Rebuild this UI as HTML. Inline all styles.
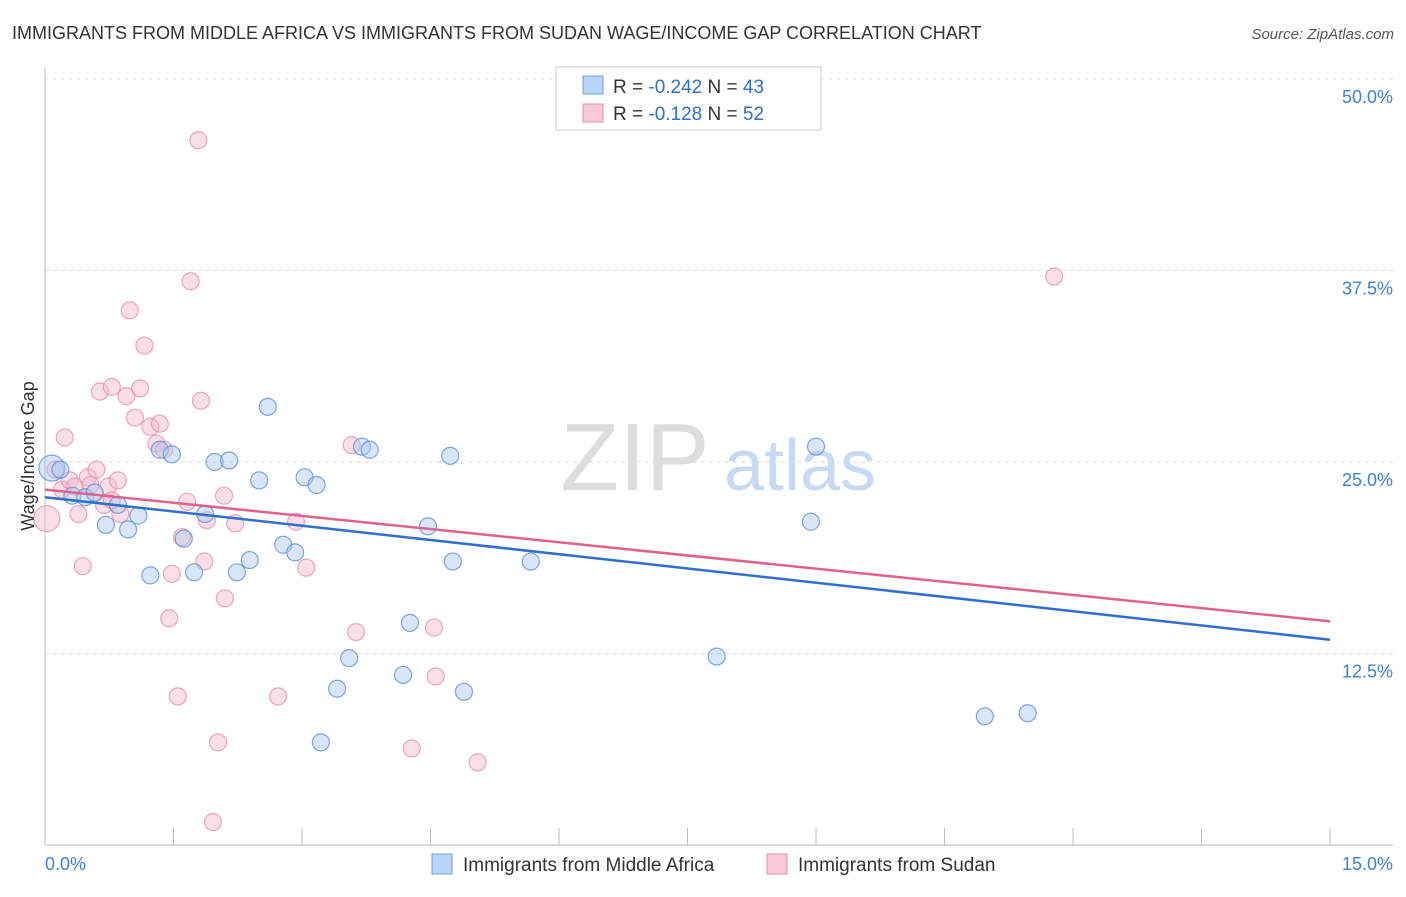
<!DOCTYPE html>
<html><head><meta charset="utf-8"><style>
body{margin:0;background:#fff;font-family:"Liberation Sans",sans-serif;}
svg text{font-family:"Liberation Sans",sans-serif;}
</style></head><body>
<svg id="chart" width="1406" height="892" xmlns="http://www.w3.org/2000/svg">
<text x="12" y="39" font-size="18" fill="#333">IMMIGRANTS FROM MIDDLE AFRICA VS IMMIGRANTS FROM SUDAN WAGE/INCOME GAP CORRELATION CHART</text>
<text x="1394" y="39" font-size="15" fill="#555" text-anchor="end" font-style="italic">Source: ZipAtlas.com</text>
<text x="635" y="490" font-size="96" fill="#ddd" text-anchor="middle" font-family="Liberation Serif">ZIP</text>
<text x="800" y="490" font-size="72" fill="#c8daf2" text-anchor="middle">atlas</text>
<g id="grid"></g><g id="axes"></g><g id="marks"></g>
<text transform="translate(34,456) rotate(-90)" font-size="18" fill="#333" text-anchor="middle">Wage/Income Gap</text>
<g>
<rect x="556" y="67" width="265" height="63" fill="#fff" stroke="#ccc"/>
<rect x="583" y="76" width="20" height="18" fill="#b8d4f6" stroke="#6fa0e0"/>
<rect x="583" y="104" width="20" height="18" fill="#f9c8d8" stroke="#e890b0"/>
<text x="613" y="93" font-size="19" fill="#333">R = <tspan fill="#2f6fd0">-0.242</tspan>   N = <tspan fill="#2f6fd0">43</tspan></text>
<text x="613" y="120" font-size="19" fill="#333">R =  <tspan fill="#2f6fd0">-0.128</tspan>   N = <tspan fill="#2f6fd0">52</tspan></text>
</g>
<g>
<rect x="432" y="854" width="20" height="20" fill="#b8d4f6" stroke="#6fa0e0"/>
<text x="463" y="871" font-size="19" fill="#333">Immigrants from Middle Africa</text>
<rect x="767" y="854" width="20" height="20" fill="#f9c8d8" stroke="#e890b0"/>
<text x="798" y="871" font-size="19" fill="#333">Immigrants from Sudan</text>
</g>
</svg>
<script>
const yTicks=[12.5,25,37.5,50];
const yTickLabels=["12.5%","25.0%","37.5%","50.0%"];
const xTicks=[0,1.5,3,4.5,6,7.5,9,10.5,12,13.5,15];
const blueX=[0.08,0.18,0.32,0.47,0.58,0.71,0.85,0.97,1.09,1.23,1.34,1.48,1.62,1.74,1.87,1.98,2.15,2.24,2.39,2.50,2.60,2.78,2.92,3.03,3.17,3.22,3.41,3.55,3.70,3.79,4.18,4.26,4.47,4.73,4.76,4.89,5.67,6.68,7.84,8.94,9.00,10.97,11.47];
const blueY=[24.6,24.5,22.8,22.7,23.0,20.9,22.2,20.6,21.5,17.6,25.8,25.5,20.0,17.8,21.6,25.0,25.1,17.8,18.6,23.8,28.6,19.6,19.1,24.0,23.5,6.7,10.2,12.2,26.0,25.8,11.1,14.5,20.8,25.4,18.5,10.0,18.5,48.6,12.3,21.1,26.0,8.4,8.6];
const pinkX=[0.02,0.12,0.20,0.23,0.29,0.35,0.39,0.44,0.50,0.53,0.60,0.64,0.69,0.74,0.78,0.78,0.85,0.88,0.95,0.99,1.05,1.11,1.16,1.23,1.30,1.34,1.39,1.48,1.45,1.55,1.60,1.66,1.70,1.79,1.82,1.86,1.89,1.96,2.02,2.09,2.10,2.22,2.72,2.93,3.05,3.58,3.63,4.28,4.54,4.56,5.05,11.78];
const pinkY=[21.3,24.5,23.2,26.6,23.8,23.4,21.6,18.2,24.0,23.5,24.5,29.6,22.2,23.4,29.9,22.5,23.8,21.6,29.3,34.9,27.9,29.8,32.6,27.3,26.2,27.5,25.8,17.7,14.8,9.7,20.1,22.4,36.8,46.0,29.0,18.5,21.2,1.5,6.7,22.8,16.1,21.0,9.7,21.1,18.1,26.1,13.9,6.3,14.2,11.0,5.4,37.1];
const blueLine=[22.7,13.4];
const pinkLine=[23.2,14.6];
const NS="http://www.w3.org/2000/svg";
const X=v=>45+v*85.67, Y=v=>845-v*15.32;
function mk(tag,attrs,parent){const e=document.createElementNS(NS,tag);for(const k in attrs)e.setAttribute(k,attrs[k]);parent.appendChild(e);return e;}
const grid=document.getElementById('grid'),axes=document.getElementById('axes'),marks=document.getElementById('marks');
yTicks.forEach((t,i)=>{
 const l=mk('line',{x1:45,x2:1393,y1:Y(t),y2:Y(t),stroke:'#ddd','stroke-dasharray':'4,4'},grid);
 
 
 const tx=mk('text',{x:1393,y:Y(t)+24,'font-size':18,fill:'#3f7fd8','text-anchor':'end'},axes);
 tx.textContent=yTickLabels[i];
 
 
});
const ax=mk('line',{x1:45,x2:1393,y1:845,y2:845,stroke:'#bbb'},axes);


const ay=mk('line',{x1:45,x2:45,y1:68,y2:845,stroke:'#bbb'},axes);


xTicks.forEach(t=>{const l=mk('line',{x1:X(t),x2:X(t),y1:828,y2:845,stroke:'#bbb'},axes);
 
 });
const xl0=mk('text',{x:45,y:870,'font-size':18,fill:'#3f7fd8'},axes);xl0.textContent='0.0%';


const xl1=mk('text',{x:1393,y:870,'font-size':18,fill:'#3f7fd8','text-anchor':'end'},axes);xl1.textContent='15.0%';


function pts(xs,ys,fill,stroke,name){xs.forEach((x,i)=>{const big=(i===0);
 const c=mk('circle',{cx:X(x),cy:Y(ys[i]),r:big?13:8.5,fill:fill,'fill-opacity':0.45,stroke:stroke,'stroke-opacity':0.8,'stroke-width':1.2},marks);
 
 });}
pts(pinkX,pinkY,'#f5b8cc','#e890b0','sudan-point');
pts(blueX,blueY,'#a8c8f0','#5f90d8','middle-africa-point');
const bl=mk('line',{x1:X(0),y1:Y(blueLine[0]),x2:X(15),y2:Y(blueLine[1]),stroke:'#2f6fd0','stroke-width':2.5},marks);


const pl=mk('line',{x1:X(0),y1:Y(pinkLine[0]),x2:X(15),y2:Y(pinkLine[1]),stroke:'#e06090','stroke-width':2.5},marks);


</script>
</body></html>
